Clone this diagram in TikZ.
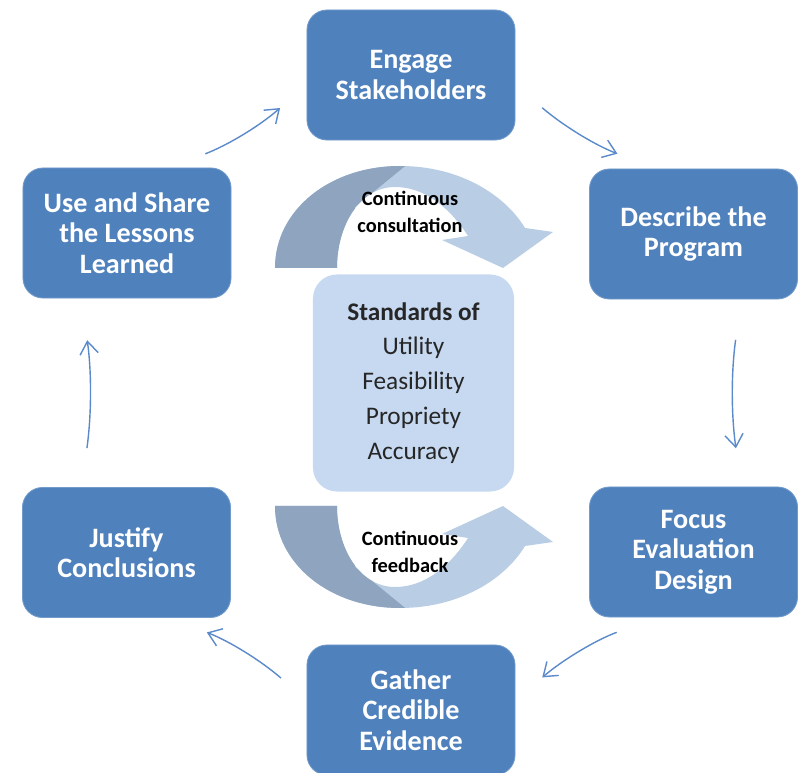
\documentclass[tikz,border=0pt]{standalone}
\usepackage{fontspec}
\setmainfont{Carlito}
\usetikzlibrary{arrows.meta, calc}

\definecolor{boxblue}{HTML}{4F81BD}
\definecolor{paleblue}{HTML}{C6D9F1}
\definecolor{banddark}{HTML}{8EA4BF}
\definecolor{bandlight}{HTML}{B9CDE5}
\definecolor{flowblue}{HTML}{5B8ACB}

% outline of the curved band arrow (pixel units, y pointing down)
\newcommand{\bandpath}{(275,268) .. controls (275,210) and (330,166) .. (400,166)
  .. controls (460,166) and (505,195) .. (525,228) -- (553,232) -- (503,268)
  -- (442,240) -- (468,236) .. controls (450,208) and (425,187) .. (395,187)
  .. controls (360,187) and (337,225) .. (337,268) -- cycle}

\begin{document}
\begin{tikzpicture}[
    x=0.025cm, y=-0.025cm,
    stage/.style={rectangle, rounded corners=0.5cm, fill=boxblue, draw=boxblue!80!white, line width=0.6pt,
      minimum width=5.2cm, minimum height=3.25cm, text=white, align=center,
      font=\bfseries\fontsize{20}{21.6}\selectfont},
    standards/.style={rectangle, rounded corners=0.6cm, fill=paleblue, minimum width=5.025cm,
      minimum height=5.425cm, align=center, text=black!85, font=\fontsize{18}{24.8}\selectfont},
    bandtext/.style={align=center, text=black, font=\bfseries\fontsize{14.5}{19}\selectfont},
    flow/.style={-{Straight Barb[length=9pt,width=13pt]}, line width=1pt, draw=flowblue}
]
\useasboundingbox (0,0) rectangle (798,773);

% curved band arrows around the standards
\fill[bandlight] \bandpath;
\begin{scope}
    \clip (250,140) -- (437,140) -- (355,207) -- (370,300) -- (250,300) -- cycle;
    \fill[banddark] \bandpath;
\end{scope}
\begin{scope}[shift={(0,774)}, yscale=-1]
    \fill[bandlight] \bandpath;
    \begin{scope}
        \clip (250,140) -- (437,140) -- (355,207) -- (370,300) -- (250,300) -- cycle;
        \fill[banddark] \bandpath;
    \end{scope}
\end{scope}

% stages of the cycle
\node[stage] (engage) at (411,75) {Engage\\Stakeholders};
\node[stage] (describe) at (693.5,234) {Describe the\\Program};
\node[stage] (focus) at (693.5,552) {Focus\\Evaluation\\Design};
\node[stage] (gather) at (411,710) {Gather\\Credible\\Evidence};
\node[stage] (justify) at (126.5,552.5) {Justify\\Conclusions};
\node[stage] (use) at (127,233) {Use and Share\\the Lessons\\Learned};

% centre
\node[standards] (std) at (413.5,383) {\textbf{Standards of}\\Utility\\Feasibility\\Propriety\\Accuracy};
\node[bandtext] (consult) at (410,212) {Continuous\\consultation};
\node[bandtext] (feedback) at (410,552) {Continuous\\feedback};

% cycle arrows
\draw[flow, shorten <=25pt, shorten >=30pt] ([yshift=-7pt]engage.east) to[bend right=10] ([xshift=-26pt]describe.north);
\draw[flow, shorten <=29pt, shorten >=27.5pt] ([xshift=34pt]describe.south) to[bend right=8] ([xshift=34pt]focus.north);
\draw[flow, shorten <=30.5pt, shorten >=25pt] ([xshift=-26pt]focus.south) to[bend right=10] ([yshift=7pt]gather.east);
\draw[flow, shorten <=24pt, shorten >=29pt] ([yshift=7pt]gather.west) to[bend right=10] ([xshift=30pt]justify.south);
\draw[flow, shorten <=28pt, shorten >=30pt] ([xshift=-32pt]justify.north) to[bend right=8] ([xshift=-32.5pt]use.south);
\draw[flow, shorten <=27pt, shorten >=25pt] ([xshift=30.5pt]use.north) to[bend right=10] ([yshift=-7pt]engage.west);

\end{tikzpicture}
\end{document}
